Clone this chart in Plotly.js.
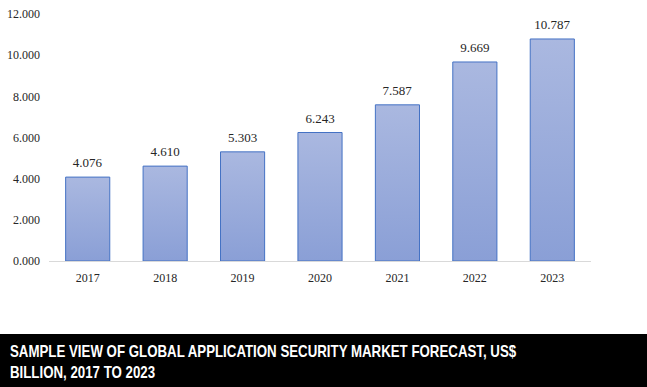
<!DOCTYPE html>
<html><head><meta charset="utf-8">
<script src="https://cdn.plot.ly/plotly-3.0.1.min.js"></script>
<style>html,body{margin:0;padding:0;background:#fff}#chart{width:647px;height:387px}</style>
</head><body><div id="chart"></div>
<script>
const years = ['2017','2018','2019','2020','2021','2022','2023'];
const values = [4.076, 4.610, 5.303, 6.243, 7.587, 9.669, 10.787];
const yTicks = [0, 2, 4, 6, 8, 10, 12];
const titleText = 'SAMPLE VIEW OF GLOBAL APPLICATION SECURITY MARKET FORECAST, US$<br>BILLION, 2017 TO 2023';

const trace = {
  type: 'bar', x: years, y: values,
  marker: {color: '#98aadb', line: {color: '#4472c4', width: 1}},
  texttemplate: '%{y:.3f}', textposition: 'outside', cliponaxis: false,
  textfont: {family: 'Liberation Serif, Times New Roman, serif', size: 13, color: '#262626'},
  hoverinfo: 'none'
};
const layout = {
  width: 647, height: 387,
  margin: {l: 49, r: 56, t: 14, b: 126},
  paper_bgcolor: '#fff', plot_bgcolor: '#fff',
  bargap: 0.43, showlegend: false,
  font: {family: 'Liberation Serif, Times New Roman, serif', size: 12, color: '#262626'},
  xaxis: {type: 'category', showgrid: false, showline: true, linecolor: '#d9d9d9', linewidth: 1,
          ticks: '', ticklabelstandoff: 6, tickfont: {size: 12, color: '#262626'}, fixedrange: true},
  yaxis: {range: [0, 12], tickvals: yTicks, tickformat: '.3f', showgrid: false, zeroline: false,
          showline: false, ticks: '', ticklabelstandoff: 8, tickfont: {size: 12, color: '#262626'}, fixedrange: true},
  annotations: [{text: titleText, xref: 'paper', yref: 'paper', x: -41/542, xanchor: 'left',
          y: (261 - 341) / 247, yanchor: 'top', align: 'left', showarrow: false,
          font: {family: 'Liberation Sans, Arial, sans-serif', size: 16, color: '#fff', weight: 'bold'}}],
  shapes: [{type: 'rect', xref: 'paper', yref: 'paper', x0: -0.2, x1: 1.2,
            y0: -(334 - 261) / 247, y1: -0.6, fillcolor: '#000', line: {width: 0}, layer: 'above'}]
};
Plotly.newPlot('chart', [trace], layout, {displayModeBar: false, staticPlot: true}).then(function(gd){
  const svg = gd.querySelector('svg.main-svg');
  const ns = 'http://www.w3.org/2000/svg';
  let defs = svg.querySelector('defs');
  if (!defs) { defs = document.createElementNS(ns, 'defs'); svg.insertBefore(defs, svg.firstChild); }
  const g = document.createElementNS(ns, 'linearGradient');
  g.setAttribute('id', 'barGrad'); g.setAttribute('x1', '0'); g.setAttribute('y1', '0');
  g.setAttribute('x2', '0'); g.setAttribute('y2', '1');
  [['0', '#aab8e0'], ['1', '#8a9fd6']].forEach(function(s){
    const st = document.createElementNS(ns, 'stop');
    st.setAttribute('offset', s[0]); st.setAttribute('stop-color', s[1]); g.appendChild(st);
  });
  defs.appendChild(g);
  gd.querySelectorAll('.barlayer .point path').forEach(function(p){ p.style.fill = 'url(#barGrad)'; });
  // lift value labels slightly
  gd.querySelectorAll('.barlayer .point text').forEach(function(t){
    t.setAttribute('transform', 'translate(0,-4) ' + (t.getAttribute('transform') || ''));
  });
  // condense title like a narrow font
  const at = gd.querySelector('.annotation-text');
  if (at) {
    const w = at.getBBox().width;
    const s = 507 / w;
    at.style.transformBox = 'fill-box';
    at.style.transformOrigin = 'left center';
    at.style.transform = 'scaleX(' + s + ')';
  }
});
</script></body></html>
